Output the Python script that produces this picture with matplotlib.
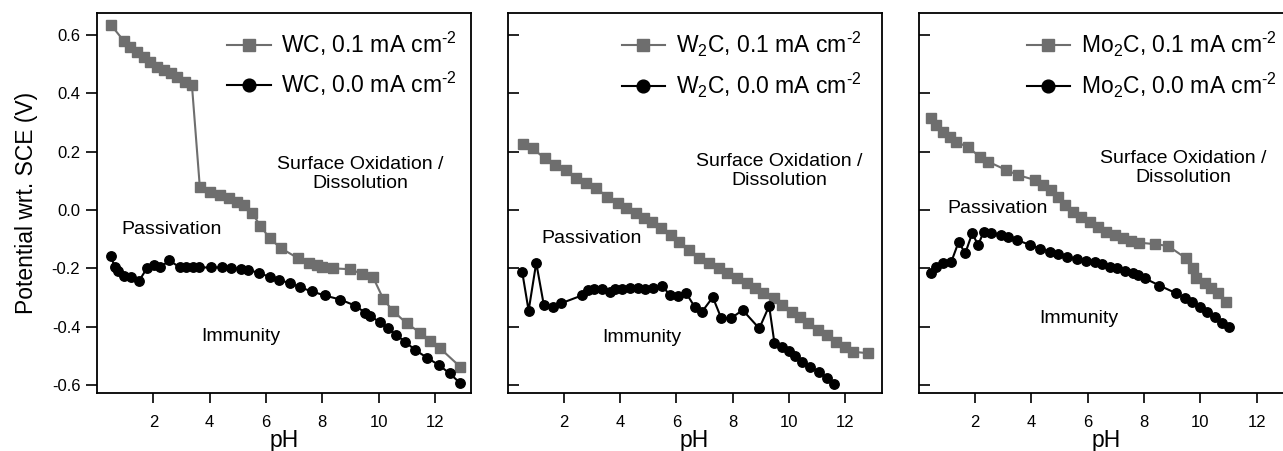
import matplotlib
matplotlib.use("Agg")
from matplotlib import pyplot as plt

plt.rcParams['font.family'] = ['Liberation Sans', 'DejaVu Sans']
plt.rcParams['mathtext.fontset'] = 'custom'
plt.rcParams['mathtext.rm'] = 'Liberation Sans'
plt.rcParams['mathtext.it'] = 'Liberation Sans:italic'
plt.rcParams['mathtext.bf'] = 'Liberation Sans:bold'

# WC
wc_ph_01 = [0.50, 0.95, 1.18, 1.42, 1.66, 1.89, 2.13, 2.37, 2.61, 2.84, 3.14, 3.37,
            3.65, 4.03, 4.38, 4.68, 4.97, 5.21, 5.51, 5.80, 6.13, 6.53, 7.15, 7.51,
            7.80, 7.98, 8.37, 8.99, 9.40, 9.79, 10.17, 10.50, 11.00, 11.47, 11.83,
            12.18, 12.89]
wc_v_01 = [0.634, 0.580, 0.560, 0.542, 0.523, 0.508, 0.491, 0.480, 0.469, 0.455, 0.440, 0.429,
           0.080, 0.063, 0.051, 0.040, 0.028, 0.017, -0.011, -0.054, -0.097, -0.131, -0.166, -0.180,
           -0.189, -0.197, -0.200, -0.203, -0.219, -0.228, -0.306, -0.345, -0.389, -0.420, -0.448,
           -0.474, -0.537]
wc_ph_00 = [0.48, 0.64, 0.76, 0.97, 1.21, 1.50, 1.77, 2.02, 2.25, 2.57, 2.93, 3.17, 3.40,
            3.62, 4.04, 4.44, 4.75, 5.12, 5.37, 5.77, 6.14, 6.45, 6.86, 7.20, 7.63, 8.08,
            8.64, 9.17, 9.52, 9.71, 10.04, 10.32, 10.62, 10.93, 11.30, 11.71, 12.13, 12.52, 12.90]
wc_v_00 = [-0.156, -0.197, -0.208, -0.227, -0.228, -0.242, -0.200, -0.190, -0.196, -0.173, -0.196,
           -0.196, -0.196, -0.197, -0.197, -0.197, -0.198, -0.203, -0.207, -0.215, -0.231, -0.241,
           -0.250, -0.265, -0.279, -0.293, -0.307, -0.328, -0.352, -0.363, -0.385, -0.406, -0.428,
           -0.451, -0.480, -0.506, -0.531, -0.560, -0.594]

# W2C
w2c_ph_01 = [0.55, 0.90, 1.32, 1.67, 2.08, 2.43, 2.79, 3.14, 3.55, 3.91, 4.20, 4.55, 4.85,
             5.14, 5.44, 5.79, 6.09, 6.44, 6.79, 7.15, 7.50, 7.80, 8.15, 8.50, 8.80, 9.09,
             9.45, 9.74, 10.09, 10.39, 10.68, 11.04, 11.33, 11.68, 11.97, 12.27, 12.80]
w2c_v_01 = [0.226, 0.211, 0.177, 0.154, 0.137, 0.108, 0.091, 0.074, 0.046, 0.023, 0.006, -0.011,
            -0.029, -0.040, -0.063, -0.086, -0.109, -0.137, -0.166, -0.183, -0.200, -0.217,
            -0.234, -0.251, -0.269, -0.286, -0.303, -0.326, -0.349, -0.366, -0.389, -0.411,
            -0.429, -0.451, -0.469, -0.486, -0.491]
w2c_ph_00 = [0.52, 0.75, 1.02, 1.29, 1.61, 1.90, 2.64, 2.85, 3.06, 3.35, 3.65, 3.81, 4.05,
             4.36, 4.65, 4.89, 5.18, 5.50, 5.76, 6.05, 6.35, 6.64, 6.89, 7.29, 7.59, 7.94,
             8.35, 8.94, 9.29, 9.48, 9.75, 9.99, 10.22, 10.46, 10.75, 11.05, 11.33, 11.61]
w2c_v_00 = [-0.211, -0.345, -0.181, -0.326, -0.334, -0.320, -0.293, -0.274, -0.272, -0.272,
            -0.282, -0.272, -0.272, -0.269, -0.269, -0.272, -0.269, -0.261, -0.291, -0.294,
            -0.286, -0.331, -0.351, -0.299, -0.371, -0.371, -0.343, -0.406, -0.329, -0.457,
            -0.471, -0.484, -0.499, -0.520, -0.537, -0.555, -0.575, -0.598]

# Mo2C
mo_ph_01 = [0.42, 0.63, 0.86, 1.10, 1.34, 1.75, 2.17, 2.46, 3.11, 3.52, 4.12, 4.41, 4.71,
            4.95, 5.18, 5.48, 5.77, 6.07, 6.36, 6.66, 6.96, 7.25, 7.55, 7.84, 8.38, 8.85,
            9.50, 9.74, 9.86, 10.15, 10.39, 10.62, 10.90]
mo_v_01 = [0.314, 0.291, 0.268, 0.249, 0.234, 0.215, 0.183, 0.166, 0.137, 0.120, 0.103, 0.086,
           0.069, 0.046, 0.017, -0.006, -0.023, -0.040, -0.057, -0.074, -0.086, -0.097, -0.106,
           -0.112, -0.117, -0.123, -0.166, -0.200, -0.234, -0.251, -0.269, -0.286, -0.314]
mo_ph_00 = [0.45, 0.63, 0.86, 1.16, 1.42, 1.65, 1.90, 2.11, 2.31, 2.56, 2.93, 3.17, 3.49,
            3.96, 4.32, 4.65, 4.95, 5.27, 5.63, 5.95, 6.25, 6.51, 6.78, 7.05, 7.34, 7.61,
            7.79, 8.02, 8.55, 9.15, 9.44, 9.71, 9.98, 10.25, 10.51, 10.78, 11.01]
mo_v_00 = [-0.217, -0.194, -0.181, -0.177, -0.109, -0.149, -0.080, -0.120, -0.074, -0.078,
           -0.086, -0.094, -0.103, -0.120, -0.133, -0.143, -0.152, -0.160, -0.169, -0.175,
           -0.179, -0.185, -0.194, -0.200, -0.208, -0.217, -0.223, -0.234, -0.259, -0.286,
           -0.303, -0.314, -0.331, -0.349, -0.366, -0.386, -0.400]

names = ['WC', 'W$_2$C', 'Mo$_2$C']
series = [(wc_ph_01, wc_v_01, wc_ph_00, wc_v_00),
          (w2c_ph_01, w2c_v_01, w2c_ph_00, w2c_v_00),
          (mo_ph_01, mo_v_01, mo_ph_00, mo_v_00)]
# label positions (pH, V): passivation, immunity, oxidation
passiv_pos = [(2.63, -0.066), (3.0, -0.097), (2.81, 0.006)]
immun_pos = [(5.1, -0.434), (4.77, -0.437), (5.68, -0.371)]
oxid_pos = [(9.35, 0.123), (9.65, 0.134), (9.39, 0.143)]
legend_x = [227, 621.7, 1026.7]
ax_left = [97, 507.5, 918.7]

W, H = 1283, 451
fig = plt.figure(figsize=(W / 100, H / 100), dpi=100)
gray = '#6e6e6e'
sup = ' mA cm$^{\\text{-2}}$'

for i in range(3):
    ax = fig.add_axes([ax_left[i] / W, (H - 393) / H, 374 / W, 380 / H])
    p1, v1, p0, v0 = series[i]
    ax.plot(p1, v1, '-s', color=gray, lw=1.5, ms=6.5, mec=gray, mfc=gray,
            label=names[i] + ', 0.1' + sup)
    ax.plot(p0, v0, '-o', color='black', lw=1.5, ms=6.8,
            label=names[i] + ', 0.0' + sup)
    ax.set_xlim(0, 13.28)
    ax.set_ylim(-0.6274, 0.6754)
    ax.set_xticks([2, 4, 6, 8, 10, 12])
    ax.set_yticks([-0.6, -0.4, -0.2, 0.0, 0.2, 0.4, 0.6])
    ax.tick_params(axis='x', direction='out', length=7, width=1.2, pad=9, labelsize=12)
    if i == 0:
        ax.tick_params(axis='y', direction='out', length=8, width=1.2, pad=4, labelsize=12)
        ax.set_yticklabels(['-0.6', '-0.4', '-0.2', '0.0', '0.2', '0.4', '0.6'])
        ax.set_ylabel('Potential wrt. SCE (V)', fontsize=16.5, labelpad=10)
    else:
        ax.tick_params(axis='y', direction='in', length=8, width=1.2)
        ax.set_yticklabels([])
    ax.set_xlabel('pH', fontsize=16.5, labelpad=-1)
    for s in ax.spines.values():
        s.set_linewidth(1.3)
    ax.text(*passiv_pos[i], 'Passivation', fontsize=14, ha='center', va='center')
    ax.text(*immun_pos[i], 'Immunity', fontsize=14, ha='center', va='center')
    ax.text(*oxid_pos[i], 'Surface Oxidation /\nDissolution', fontsize=14,
            ha='center', va='center', linespacing=1.15)
    ax.legend(loc='upper left', bbox_to_anchor=(legend_x[i] / W, (H - 30) / H),
              bbox_transform=fig.transFigure, frameon=False, borderpad=0,
              borderaxespad=0, handlelength=1.9, handletextpad=0.45,
              labelspacing=0.5, fontsize=16.5, markerscale=1.35)

fig.savefig('out.png', dpi=100)
